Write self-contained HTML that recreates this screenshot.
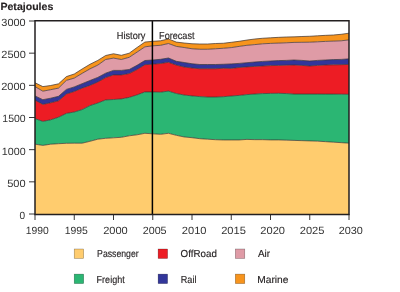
<!DOCTYPE html>
<html><head><meta charset="utf-8"><style>
html,body{margin:0;padding:0;background:#fff;}
svg{display:block;will-change:transform;}
text{text-rendering:geometricPrecision;font-family:"Liberation Sans",sans-serif;font-size:10.2px;fill:#231F20;}
.lg{stroke:#231F20;stroke-width:0.15px;}
.dg{fill:#333;}
</style></head><body>
<svg width="400" height="292" viewBox="0 0 400 292">
<rect width="400" height="292" fill="#fff"/>
<g><path d="M35 82.75 L42.85 86.6 L50.7 85.5 L58.55 83.8 L66.4 76.6 L74.25 74 L82.1 69 L89.95 64.3 L97.8 60.4 L105.65 55.5 L113.5 53.75 L121.35 55.3 L129.2 53.2 L137.05 47.5 L144.9 42.05 L152.75 41.3 L160.6 40.8 L168.45 38.9 L176.3 42.1 L184.15 43 L192 43.75 L199.85 44 L207.7 44 L215.55 43.5 L223.4 43.25 L231.25 42.3 L239.1 41.3 L246.95 40.05 L254.8 39 L262.65 38.25 L270.5 37.8 L278.35 37.35 L286.2 37 L294.05 36.85 L301.9 36.5 L309.75 36.25 L317.6 35.8 L325.45 35.35 L333.3 35 L341.15 34.3 L349 33.2 L349 39.9 L341.15 40.8 L333.3 41.1 L325.45 41.4 L317.6 41.8 L309.75 42.2 L301.9 42.3 L294.05 42.4 L286.2 42.8 L278.35 43.1 L270.5 43.4 L262.65 43.8 L254.8 44.6 L246.95 45.3 L239.1 46.4 L231.25 47.6 L223.4 48.25 L215.55 48.75 L207.7 49.25 L199.85 49.25 L192 48.75 L184.15 47.5 L176.3 46.4 L168.45 43.5 L160.6 45.3 L152.75 45.8 L144.9 46.85 L137.05 52.1 L129.2 57.3 L121.35 59.5 L113.5 58.1 L105.65 59.5 L97.8 65.1 L89.95 68.9 L82.1 73.4 L74.25 78.1 L66.4 80.4 L58.55 88.1 L50.7 89.7 L42.85 91.2 L35 86.6 Z" fill="#F7941D"/>
<path d="M35 86.6 L42.85 91.2 L50.7 89.7 L58.55 88.1 L66.4 80.4 L74.25 78.1 L82.1 73.4 L89.95 68.9 L97.8 65.1 L105.65 59.5 L113.5 58.1 L121.35 59.5 L129.2 57.3 L137.05 52.1 L144.9 46.85 L152.75 45.8 L160.6 45.3 L168.45 43.5 L176.3 46.4 L184.15 47.5 L192 48.75 L199.85 49.25 L207.7 49.25 L215.55 48.75 L223.4 48.25 L231.25 47.6 L239.1 46.4 L246.95 45.3 L254.8 44.6 L262.65 43.8 L270.5 43.4 L278.35 43.1 L286.2 42.8 L294.05 42.4 L301.9 42.3 L309.75 42.2 L317.6 41.8 L325.45 41.4 L333.3 41.1 L341.15 40.8 L349 39.9 L349 58.85 L341.15 59.4 L333.3 59.6 L325.45 60 L317.6 60.4 L309.75 61 L301.9 60.4 L294.05 60 L286.2 60.4 L278.35 60.6 L270.5 61 L262.65 61.4 L254.8 62 L246.95 62.7 L239.1 63.4 L231.25 63.9 L223.4 64.25 L215.55 64.5 L207.7 64.5 L199.85 64.5 L192 63.75 L184.15 62.5 L176.3 61.3 L168.45 58 L160.6 59.3 L152.75 60 L144.9 60.5 L137.05 65.3 L129.2 69.5 L121.35 70.4 L113.5 70.4 L105.65 73.2 L97.8 77.4 L89.95 80.5 L82.1 83.7 L74.25 86.9 L66.4 89.4 L58.55 96.3 L50.7 98.2 L42.85 99.7 L35 95.9 Z" fill="#DF9BA6"/>
<path d="M35 95.9 L42.85 99.7 L50.7 98.2 L58.55 96.3 L66.4 89.4 L74.25 86.9 L82.1 83.7 L89.95 80.5 L97.8 77.4 L105.65 73.2 L113.5 70.4 L121.35 70.4 L129.2 69.5 L137.05 65.3 L144.9 60.5 L152.75 60 L160.6 59.3 L168.45 58 L176.3 61.3 L184.15 62.5 L192 63.75 L199.85 64.5 L207.7 64.5 L215.55 64.5 L223.4 64.25 L231.25 63.9 L239.1 63.4 L246.95 62.7 L254.8 62 L262.65 61.4 L270.5 61 L278.35 60.6 L286.2 60.4 L294.05 60 L301.9 60.4 L309.75 61 L317.6 60.4 L325.45 60 L333.3 59.6 L341.15 59.4 L349 58.85 L349 64.4 L341.15 64.7 L333.3 64.85 L325.45 65 L317.6 65.4 L309.75 66 L301.9 65.4 L294.05 65 L286.2 65.2 L278.35 65.4 L270.5 65.6 L262.65 66 L254.8 66.4 L246.95 66.9 L239.1 67.5 L231.25 68.4 L223.4 68.25 L215.55 68.75 L207.7 68.75 L199.85 68.75 L192 68 L184.15 67 L176.3 65.1 L168.45 62.3 L160.6 63.5 L152.75 64.2 L144.9 64.7 L137.05 69.5 L129.2 73.6 L121.35 74.9 L113.5 74.9 L105.65 77.6 L97.8 82 L89.95 85.4 L82.1 88.15 L74.25 91.5 L66.4 94 L58.55 100.8 L50.7 102.8 L42.85 104.4 L35 100.2 Z" fill="#32369A"/>
<path d="M35 100.2 L42.85 104.4 L50.7 102.8 L58.55 100.8 L66.4 94 L74.25 91.5 L82.1 88.15 L89.95 85.4 L97.8 82 L105.65 77.6 L113.5 74.9 L121.35 74.9 L129.2 73.6 L137.05 69.5 L144.9 64.7 L152.75 64.2 L160.6 63.5 L168.45 62.3 L176.3 65.1 L184.15 67 L192 68 L199.85 68.75 L207.7 68.75 L215.55 68.75 L223.4 68.25 L231.25 68.4 L239.1 67.5 L246.95 66.9 L254.8 66.4 L262.65 66 L270.5 65.6 L278.35 65.4 L286.2 65.2 L294.05 65 L301.9 65.4 L309.75 66 L317.6 65.4 L325.45 65 L333.3 64.85 L341.15 64.7 L349 64.4 L349 94.3 L341.15 94.2 L333.3 94.1 L325.45 94.1 L317.6 94.05 L309.75 94.05 L301.9 94.05 L294.05 94.05 L286.2 93.55 L278.35 93.3 L270.5 93.4 L262.65 93.6 L254.8 94 L246.95 94.6 L239.1 95.4 L231.25 96 L223.4 96.7 L215.55 97 L207.7 97 L199.85 96.6 L192 95.9 L184.15 95 L176.3 93.5 L168.45 91.1 L160.6 92.2 L152.75 91.9 L144.9 91.9 L137.05 94.9 L129.2 97.4 L121.35 98.9 L113.5 99.5 L105.65 99.9 L97.8 103 L89.95 105.6 L82.1 109.6 L74.25 112 L66.4 113.4 L58.55 117.2 L50.7 119.8 L42.85 121.4 L35 118.6 Z" fill="#ED1C24"/>
<path d="M35 118.6 L42.85 121.4 L50.7 119.8 L58.55 117.2 L66.4 113.4 L74.25 112 L82.1 109.6 L89.95 105.6 L97.8 103 L105.65 99.9 L113.5 99.5 L121.35 98.9 L129.2 97.4 L137.05 94.9 L144.9 91.9 L152.75 91.9 L160.6 92.2 L168.45 91.1 L176.3 93.5 L184.15 95 L192 95.9 L199.85 96.6 L207.7 97 L215.55 97 L223.4 96.7 L231.25 96 L239.1 95.4 L246.95 94.6 L254.8 94 L262.65 93.6 L270.5 93.4 L278.35 93.3 L286.2 93.55 L294.05 94.05 L301.9 94.05 L309.75 94.05 L317.6 94.05 L325.45 94.1 L333.3 94.1 L341.15 94.2 L349 94.3 L349 143.15 L341.15 142.65 L333.3 142.15 L325.45 141.65 L317.6 141.15 L309.75 140.9 L301.9 140.65 L294.05 140.4 L286.2 140.15 L278.35 139.9 L270.5 139.9 L262.65 139.65 L254.8 139.65 L246.95 139.4 L239.1 139.95 L231.25 139.95 L223.4 139.95 L215.55 139.7 L207.7 139.2 L199.85 138.7 L192 137.7 L184.15 136.95 L176.3 135.3 L168.45 133.3 L160.6 134.3 L152.75 133.8 L144.9 133.3 L137.05 134.8 L129.2 135.8 L121.35 137.3 L113.5 137.8 L105.65 138.3 L97.8 139.2 L89.95 141.3 L82.1 143.2 L74.25 143.2 L66.4 143.3 L58.55 143.7 L50.7 144.2 L42.85 145.4 L35 144.2 Z" fill="#2BB673"/>
<path d="M35 144.2 L42.85 145.4 L50.7 144.2 L58.55 143.7 L66.4 143.3 L74.25 143.2 L82.1 143.2 L89.95 141.3 L97.8 139.2 L105.65 138.3 L113.5 137.8 L121.35 137.3 L129.2 135.8 L137.05 134.8 L144.9 133.3 L152.75 133.8 L160.6 134.3 L168.45 133.3 L176.3 135.3 L184.15 136.95 L192 137.7 L199.85 138.7 L207.7 139.2 L215.55 139.7 L223.4 139.95 L231.25 139.95 L239.1 139.95 L246.95 139.4 L254.8 139.65 L262.65 139.65 L270.5 139.9 L278.35 139.9 L286.2 140.15 L294.05 140.4 L301.9 140.65 L309.75 140.9 L317.6 141.15 L325.45 141.65 L333.3 142.15 L341.15 142.65 L349 143.15 L349 214 L35 214 Z" fill="#FFCC6E"/></g>
<g fill="none" stroke="#3a3030" stroke-width="0.7" stroke-linejoin="round"><path d="M35 82.75 L42.85 86.6 L50.7 85.5 L58.55 83.8 L66.4 76.6 L74.25 74 L82.1 69 L89.95 64.3 L97.8 60.4 L105.65 55.5 L113.5 53.75 L121.35 55.3 L129.2 53.2 L137.05 47.5 L144.9 42.05 L152.75 41.3 L160.6 40.8 L168.45 38.9 L176.3 42.1 L184.15 43 L192 43.75 L199.85 44 L207.7 44 L215.55 43.5 L223.4 43.25 L231.25 42.3 L239.1 41.3 L246.95 40.05 L254.8 39 L262.65 38.25 L270.5 37.8 L278.35 37.35 L286.2 37 L294.05 36.85 L301.9 36.5 L309.75 36.25 L317.6 35.8 L325.45 35.35 L333.3 35 L341.15 34.3 L349 33.2"/>
<path d="M35 86.6 L42.85 91.2 L50.7 89.7 L58.55 88.1 L66.4 80.4 L74.25 78.1 L82.1 73.4 L89.95 68.9 L97.8 65.1 L105.65 59.5 L113.5 58.1 L121.35 59.5 L129.2 57.3 L137.05 52.1 L144.9 46.85 L152.75 45.8 L160.6 45.3 L168.45 43.5 L176.3 46.4 L184.15 47.5 L192 48.75 L199.85 49.25 L207.7 49.25 L215.55 48.75 L223.4 48.25 L231.25 47.6 L239.1 46.4 L246.95 45.3 L254.8 44.6 L262.65 43.8 L270.5 43.4 L278.35 43.1 L286.2 42.8 L294.05 42.4 L301.9 42.3 L309.75 42.2 L317.6 41.8 L325.45 41.4 L333.3 41.1 L341.15 40.8 L349 39.9"/>
<path d="M35 95.9 L42.85 99.7 L50.7 98.2 L58.55 96.3 L66.4 89.4 L74.25 86.9 L82.1 83.7 L89.95 80.5 L97.8 77.4 L105.65 73.2 L113.5 70.4 L121.35 70.4 L129.2 69.5 L137.05 65.3 L144.9 60.5 L152.75 60 L160.6 59.3 L168.45 58 L176.3 61.3 L184.15 62.5 L192 63.75 L199.85 64.5 L207.7 64.5 L215.55 64.5 L223.4 64.25 L231.25 63.9 L239.1 63.4 L246.95 62.7 L254.8 62 L262.65 61.4 L270.5 61 L278.35 60.6 L286.2 60.4 L294.05 60 L301.9 60.4 L309.75 61 L317.6 60.4 L325.45 60 L333.3 59.6 L341.15 59.4 L349 58.85"/>
<path d="M35 100.2 L42.85 104.4 L50.7 102.8 L58.55 100.8 L66.4 94 L74.25 91.5 L82.1 88.15 L89.95 85.4 L97.8 82 L105.65 77.6 L113.5 74.9 L121.35 74.9 L129.2 73.6 L137.05 69.5 L144.9 64.7 L152.75 64.2 L160.6 63.5 L168.45 62.3 L176.3 65.1 L184.15 67 L192 68 L199.85 68.75 L207.7 68.75 L215.55 68.75 L223.4 68.25 L231.25 68.4 L239.1 67.5 L246.95 66.9 L254.8 66.4 L262.65 66 L270.5 65.6 L278.35 65.4 L286.2 65.2 L294.05 65 L301.9 65.4 L309.75 66 L317.6 65.4 L325.45 65 L333.3 64.85 L341.15 64.7 L349 64.4"/>
<path d="M35 118.6 L42.85 121.4 L50.7 119.8 L58.55 117.2 L66.4 113.4 L74.25 112 L82.1 109.6 L89.95 105.6 L97.8 103 L105.65 99.9 L113.5 99.5 L121.35 98.9 L129.2 97.4 L137.05 94.9 L144.9 91.9 L152.75 91.9 L160.6 92.2 L168.45 91.1 L176.3 93.5 L184.15 95 L192 95.9 L199.85 96.6 L207.7 97 L215.55 97 L223.4 96.7 L231.25 96 L239.1 95.4 L246.95 94.6 L254.8 94 L262.65 93.6 L270.5 93.4 L278.35 93.3 L286.2 93.55 L294.05 94.05 L301.9 94.05 L309.75 94.05 L317.6 94.05 L325.45 94.1 L333.3 94.1 L341.15 94.2 L349 94.3"/>
<path d="M35 144.2 L42.85 145.4 L50.7 144.2 L58.55 143.7 L66.4 143.3 L74.25 143.2 L82.1 143.2 L89.95 141.3 L97.8 139.2 L105.65 138.3 L113.5 137.8 L121.35 137.3 L129.2 135.8 L137.05 134.8 L144.9 133.3 L152.75 133.8 L160.6 134.3 L168.45 133.3 L176.3 135.3 L184.15 136.95 L192 137.7 L199.85 138.7 L207.7 139.2 L215.55 139.7 L223.4 139.95 L231.25 139.95 L239.1 139.95 L246.95 139.4 L254.8 139.65 L262.65 139.65 L270.5 139.9 L278.35 139.9 L286.2 140.15 L294.05 140.4 L301.9 140.65 L309.75 140.9 L317.6 141.15 L325.45 141.65 L333.3 142.15 L341.15 142.65 L349 143.15"/></g>
<line x1="152.4" y1="21" x2="152.4" y2="214" stroke="#000" stroke-width="1.5"/>
<path d="M35 214.4 V20.8 H349 V214.4 Z" fill="none" stroke="#231F20" stroke-width="1.5"/>
<g stroke="#231F20" stroke-width="0.9"><line x1="29" y1="214" x2="35" y2="214"/><line x1="29" y1="181.83" x2="35" y2="181.83"/><line x1="29" y1="149.67" x2="35" y2="149.67"/><line x1="29" y1="117.5" x2="35" y2="117.5"/><line x1="29" y1="85.33" x2="35" y2="85.33"/><line x1="29" y1="53.17" x2="35" y2="53.17"/><line x1="29" y1="21" x2="35" y2="21"/><line x1="35" y1="214" x2="35" y2="220"/><line x1="74.25" y1="214" x2="74.25" y2="220"/><line x1="113.5" y1="214" x2="113.5" y2="220"/><line x1="152.75" y1="214" x2="152.75" y2="220"/><line x1="192" y1="214" x2="192" y2="220"/><line x1="231.25" y1="214" x2="231.25" y2="220"/><line x1="270.5" y1="214" x2="270.5" y2="220"/><line x1="309.75" y1="214" x2="309.75" y2="220"/><line x1="349" y1="214" x2="349" y2="220"/></g>
<text x="0.44" y="9.9" textLength="52.86" lengthAdjust="spacingAndGlyphs" style="font-size:10.4px;font-weight:bold;" class="lg">Petajoules</text>
<text x="116.82" y="38.5" textLength="28.64" lengthAdjust="spacingAndGlyphs" style="font-size:10.2px;" class="lg">History</text>
<text x="159.08" y="38.5" textLength="35.45" lengthAdjust="spacingAndGlyphs" style="font-size:10.2px;" class="lg">Forecast</text>
<text x="97.11" y="257.2" textLength="41.58" lengthAdjust="spacingAndGlyphs" style="font-size:10.2px;" class="lg">Passenger</text>
<text x="96.58" y="282.8" textLength="28.14" lengthAdjust="spacingAndGlyphs" style="font-size:10.2px;" class="lg">Freight</text>
<text x="180.62" y="257.2" textLength="36.21" lengthAdjust="spacingAndGlyphs" style="font-size:10.2px;" class="lg">OffRoad</text>
<text x="180.78" y="282.8" textLength="15.73" lengthAdjust="spacingAndGlyphs" style="font-size:10.2px;" class="lg">Rail</text>
<text x="258" y="257.2" textLength="12.1" lengthAdjust="spacingAndGlyphs" style="font-size:10.2px;" class="lg">Air</text>
<text x="257.25" y="282.8" textLength="31.24" lengthAdjust="spacingAndGlyphs" style="font-size:10.2px;" class="lg">Marine</text>
<text x="1.38" y="25.7" textLength="24.29" lengthAdjust="spacingAndGlyphs" style="font-size:10.5px;" class="dg">3000</text>
<text x="1.33" y="58" textLength="24.45" lengthAdjust="spacingAndGlyphs" style="font-size:10.5px;" class="dg">2500</text>
<text x="1.18" y="90.2" textLength="24.5" lengthAdjust="spacingAndGlyphs" style="font-size:10.5px;" class="dg">2000</text>
<text x="2.35" y="122.3" textLength="23.31" lengthAdjust="spacingAndGlyphs" style="font-size:10.5px;" class="dg">1500</text>
<text x="1.83" y="154.6" textLength="23.83" lengthAdjust="spacingAndGlyphs" style="font-size:10.5px;" class="dg">1000</text>
<text x="7.17" y="186.8" textLength="18.42" lengthAdjust="spacingAndGlyphs" style="font-size:10.5px;" class="dg">500</text>
<text x="19.52" y="219.3" textLength="5.61" lengthAdjust="spacingAndGlyphs" style="font-size:10.5px;" class="dg">0</text>
<text x="25.66" y="234.1" textLength="22.99" lengthAdjust="spacingAndGlyphs" style="font-size:10.5px;" class="dg">1990</text>
<text x="64.76" y="234.1" textLength="23.1" lengthAdjust="spacingAndGlyphs" style="font-size:10.5px;" class="dg">1995</text>
<text x="103.17" y="234.1" textLength="24.61" lengthAdjust="spacingAndGlyphs" style="font-size:10.5px;" class="dg">2000</text>
<text x="142.69" y="234.1" textLength="23.88" lengthAdjust="spacingAndGlyphs" style="font-size:10.5px;" class="dg">2005</text>
<text x="181.82" y="234.1" textLength="24.71" lengthAdjust="spacingAndGlyphs" style="font-size:10.5px;" class="dg">2010</text>
<text x="221.17" y="234.1" textLength="24.71" lengthAdjust="spacingAndGlyphs" style="font-size:10.5px;" class="dg">2015</text>
<text x="260.32" y="234.1" textLength="24.71" lengthAdjust="spacingAndGlyphs" style="font-size:10.5px;" class="dg">2020</text>
<text x="299.77" y="234.1" textLength="24.71" lengthAdjust="spacingAndGlyphs" style="font-size:10.5px;" class="dg">2025</text>
<text x="338.68" y="234.1" textLength="24.19" lengthAdjust="spacingAndGlyphs" style="font-size:10.5px;" class="dg">2030</text>

<g><rect x="74.2" y="249" width="9.5" height="9.5" fill="#FFCC6E" stroke="#000" stroke-opacity="0.45" stroke-width="0.5"/><rect x="158.1" y="249" width="9.5" height="9.5" fill="#ED1C24" stroke="#000" stroke-opacity="0.45" stroke-width="0.5"/><rect x="235.3" y="249" width="9.5" height="9.5" fill="#DF9BA6" stroke="#000" stroke-opacity="0.45" stroke-width="0.5"/><rect x="74.2" y="274.1" width="9.5" height="9.5" fill="#2BB673" stroke="#000" stroke-opacity="0.45" stroke-width="0.5"/><rect x="158.1" y="274.1" width="9.5" height="9.5" fill="#32369A" stroke="#000" stroke-opacity="0.45" stroke-width="0.5"/><rect x="235.3" y="274.1" width="9.5" height="9.5" fill="#F7941D" stroke="#000" stroke-opacity="0.45" stroke-width="0.5"/></g>
</svg>
</body></html>
